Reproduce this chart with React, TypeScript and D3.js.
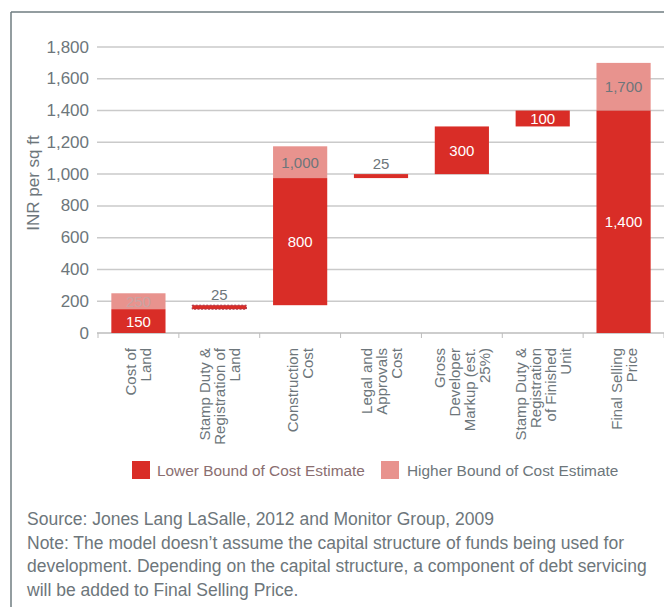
import React from "react";
import * as d3 from "d3";

const categories = [
  "Cost of\nLand",
  "Stamp Duty &\nRegistration of\nLand",
  "Construction\nCost",
  "Legal and\nApprovals\nCost",
  "Gross\nDeveloper\nMarkup (est.\n25%)",
  "Stamp Duty &\nRegistration\nof Finished\nUnit",
  "Final Selling\nPrice",
];
const baseValues = [0, 150, 175, 975, 1000, 1300, 0];
const lowerValues = [150, 25, 800, 25, 300, 100, 1400];
const higherValues: (number | null)[] = [250, null, 1000, null, null, null, 1700];
const yTicks = [0, 200, 400, 600, 800, 1000, 1200, 1400, 1600, 1800];
const legendLabels = ["Lower Bound of Cost Estimate", "Higher Bound of Cost Estimate"];
const axisTitle = "INR per sq ft";
const notes = [
  "Source: Jones Lang LaSalle, 2012 and Monitor Group, 2009",
  "Note: The model doesn\u2019t assume the capital structure of funds being used for",
  "development. Depending on the capital structure, a component of debt servicing",
  "will be added to Final Selling Price.",
];

const DARK = "#d92d27";
const PINK = "#e8938e";
const GREY = "#6d767b";
const GRID = "#cacaca";
const FONT = "'Liberation Sans', Arial, sans-serif";

export default function App() {
  const W = 664;
  const H = 607;
  const y = d3.scaleLinear().domain([0, 1800]).range([333, 47]);
  const x = d3
    .scaleBand<string>()
    .domain(categories)
    .range([98, 664])
    .paddingInner(0.33)
    .paddingOuter(0.165);
  const fmt = d3.format(",");
  const step = x.step();
  const bounds = categories.map((c) => (x(c) as number) - (step * 0.33) / 2);
  bounds.push(664);

  return (
    <svg
      width={W}
      height={H}
      style={{ position: "absolute", left: 0, top: 0, background: "#fff" }}
      fontFamily={FONT}
    >
      {/* frame */}
      <line x1={11} y1={12} x2={W} y2={12} stroke="#6f7c80" strokeWidth={1.5} />
      <line x1={11} y1={12} x2={11} y2={H} stroke="#6f7c80" strokeWidth={1.5} />

      {/* gridlines */}
      {yTicks.slice(1).map((t) => (
        <line key={t} x1={97} x2={W} y1={y(t)} y2={y(t)} stroke={GRID} strokeWidth={1.5} />
      ))}
      {/* y tick labels */}
      {yTicks.map((t) => (
        <text
          key={"l" + t}
          x={89}
          y={y(t)}
          textAnchor="end"
          dominantBaseline="central"
          fontSize={17}
          fill={GREY}
        >
          {fmt(t)}
        </text>
      ))}
      <text
        transform={`translate(39, 183) rotate(-90)`}
        textAnchor="middle"
        fontSize={17}
        fill={GREY}
      >
        {axisTitle}
      </text>

      {/* x axis */}
      <line x1={97} x2={W} y1={y(0)} y2={y(0)} stroke="#bdbdbd" strokeWidth={1.5} />
      {bounds.map((b, i) => (
        <line key={"t" + i} x1={b} x2={b} y1={y(0)} y2={y(0) + 5} stroke="#bdbdbd" strokeWidth={1} />
      ))}

      {/* bars */}
      {categories.map((c, i) => {
        const bx = x(c) as number;
        const bw = x.bandwidth();
        const base = baseValues[i];
        const low = lowerValues[i];
        const high = higherValues[i];
        const lowTop = y(base + low);
        const lowBot = y(base);
        const cx = bx + bw / 2;
        const lowH = lowBot - lowTop;
        const els: React.ReactNode[] = [];
        if (high !== null) {
          const hTop = y(base + high);
          els.push(
            <rect key="h" x={bx} y={hTop} width={bw} height={lowTop - hTop} fill={PINK} />
          );
          els.push(
            <text
              key="ht"
              x={cx}
              y={(hTop + lowTop) / 2}
              textAnchor="middle"
              dominantBaseline="central"
              fontSize={15}
              fill={i === 0 ? "#c9a3a3" : GREY}
            >
              {fmt(high)}
            </text>
          );
        }
        els.push(
          <rect
            key="l"
            x={bx}
            y={lowTop}
            width={bw}
            height={lowH}
            fill={DARK}
            stroke={i === 1 ? "#a8344a" : "none"}
            strokeDasharray={i === 1 ? "2,1.5" : undefined}
          />
        );
        if (lowH < 10) {
          els.push(
            <text key="lt" x={cx} y={lowTop - 5} textAnchor="middle" fontSize={15} fill={GREY}>
              {fmt(low)}
            </text>
          );
        } else {
          els.push(
            <text
              key="lt"
              x={cx}
              y={(lowTop + lowBot) / 2}
              textAnchor="middle"
              dominantBaseline="central"
              fontSize={15}
              fill="#fff"
            >
              {fmt(low)}
            </text>
          );
        }
        return <g key={c}>{els}</g>;
      })}

      {/* x labels */}
      {categories.map((c) => {
        const lines = c.split("\n");
        const cx = (x(c) as number) + x.bandwidth() / 2;
        const n = lines.length;
        return (
          <text
            key={"x" + c}
            transform={`translate(${cx}, 348) rotate(-90)`}
            textAnchor="end"
            fontSize={15}
            fill={GREY}
          >
            {lines.map((ln, j) => (
              <tspan key={j} x={0} y={(j - (n - 1) / 2) * 15 + 5.5}>
                {ln}
              </tspan>
            ))}
          </text>
        );
      })}

      {/* legend */}
      <rect x={132} y={461} width={18} height={18} fill={DARK} />
      <text x={157} y={476} fontSize={15.4} fill="#8a6e70">
        {legendLabels[0]}
      </text>
      <rect x={381} y={461} width={18} height={18} fill={PINK} />
      <text x={407} y={476} fontSize={15.4} fill={GREY}>
        {legendLabels[1]}
      </text>

      {/* notes */}
      {notes.map((t, i) => (
        <text key={"n" + i} x={27} y={525 + i * 23.5} fontSize={17.5} fill={GREY}>
          {t}
        </text>
      ))}
    </svg>
  );
}
